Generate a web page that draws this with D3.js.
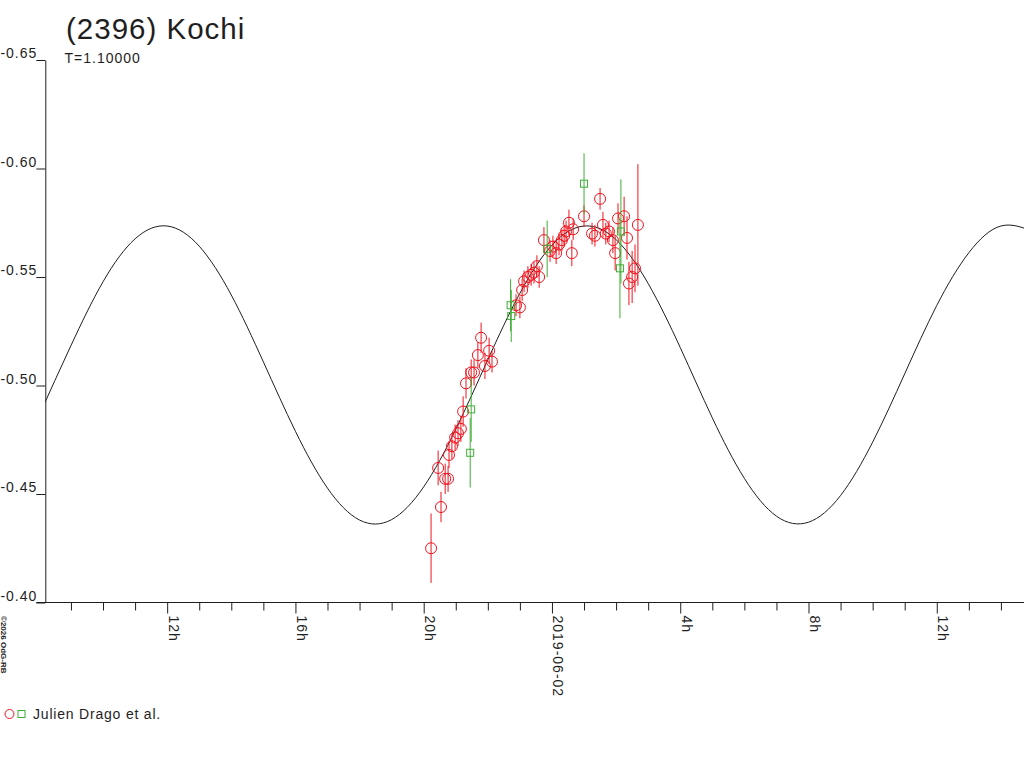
<!DOCTYPE html>
<html>
<head>
<meta charset="utf-8">
<script src="https://cdn.jsdelivr.net/npm/d3@7"></script>
<style>
  body { margin: 0; background: #fff; }
  svg { display: block; font-family: "Liberation Sans", Arial, sans-serif; }
</style>
</head>
<body>
<svg id="chart" width="1024" height="768"></svg>
<script>
// texts
const title = "(2396) Kochi";
const subtitle = "T=1.10000";
const legendLabel = "Julien Drago et al.";
const credit = "\u00a92026 OdG-RB";

// time is in hours since 2019-06-01 00:00 UT
const startDay = Date.UTC(2019, 5, 1);
const hoursShown = [8.2, 38.72];
const yTicks = [-0.65, -0.60, -0.55, -0.50, -0.45, -0.40];

// fitted light curve, every hour
const curveHours = [8, 9, 10, 11, 12, 13, 14, 15, 16, 17, 18, 19, 20, 21, 22, 23,
    24, 25, 26, 27, 28, 29, 30, 31, 32, 33, 34, 35, 36, 37, 38, 39];
const curveMag = [-0.4860, -0.5184, -0.5478, -0.5676, -0.5735, -0.5642, -0.5417, -0.5109,
    -0.4789, -0.4527, -0.4380, -0.4382, -0.4533, -0.4798, -0.5119, -0.5425,
    -0.5647, -0.5735, -0.5672, -0.5470, -0.5175, -0.4851, -0.4572, -0.4398,
    -0.4370, -0.4493, -0.4739, -0.5054, -0.5369, -0.5612, -0.5735, -0.5710];

// observations, circles (red)
const redHours = [20.23, 20.45, 20.54, 20.67, 20.76, 20.79, 20.88, 20.98, 21.07, 21.16,
    21.23, 21.32, 21.48, 21.57, 21.69, 21.79, 21.91, 22.04, 22.13, 22.88,
    23.00, 23.07, 23.13, 23.25, 23.35, 23.44, 23.53, 23.60, 23.75, 23.94,
    24.03, 24.13, 24.22, 24.31, 24.38, 24.44, 24.53, 24.62, 24.66, 25.00,
    25.25, 25.34, 25.50, 25.59, 25.68, 25.78, 25.90, 25.97, 26.06, 26.25,
    26.34, 26.40, 26.50, 26.59, 26.68];
const redMag = [-0.425, -0.462, -0.444, -0.457, -0.457, -0.468, -0.472, -0.476, -0.478, -0.480,
    -0.488, -0.501, -0.506, -0.506, -0.514, -0.522, -0.509, -0.516, -0.511, -0.537,
    -0.536, -0.544, -0.548, -0.550, -0.551, -0.552, -0.555, -0.550, -0.567, -0.562,
    -0.564, -0.561, -0.565, -0.567, -0.569, -0.571, -0.575, -0.561, -0.572, -0.578,
    -0.570, -0.569, -0.586, -0.574, -0.570, -0.571, -0.567, -0.561, -0.577, -0.578,
    -0.568, -0.547, -0.550, -0.554, -0.574];
const redErr = [0.016, 0.008, 0.007, 0.007, 0.006, 0.006, 0.006, 0.006, 0.006, 0.006,
    0.007, 0.007, 0.006, 0.006, 0.006, 0.007, 0.006, 0.006, 0.005, 0.005,
    0.005, 0.005, 0.005, 0.005, 0.005, 0.005, 0.005, 0.005, 0.006, 0.005,
    0.005, 0.005, 0.005, 0.005, 0.005, 0.005, 0.006, 0.006, 0.005, 0.005,
    0.005, 0.005, 0.005, 0.006, 0.005, 0.005, 0.006, 0.008, 0.007, 0.009,
    0.010, 0.010, 0.012, 0.011, 0.028];

// observations, squares (green)
const greenHours = [21.45, 21.48, 22.71, 22.73, 23.85, 25.00, 26.12, 26.15];
const greenMag = [-0.469, -0.489, -0.537, -0.532, -0.563, -0.593, -0.554, -0.571];
const greenErr = [0.016, 0.015, 0.012, 0.012, 0.013, 0.014, 0.023, 0.024];

const redColor = "#f0141e";
const greenColor = "#3fae35";
const ink = "#1e1e1e";

const toDate = h => new Date(startDay + h * 3600e3);
const zip = (hs, ms, es) => hs.map((h, i) => ({ t: toDate(h), m: ms[i], e: es ? es[i] : 0 }));

const svg = d3.select("#chart");
const W = +svg.attr("width");

const x = d3.scaleUtc().domain(hoursShown.map(toDate)).range([45.3, W]);
const y = d3.scaleLinear().domain([-0.65, -0.40]).range([60, 602.5]);
const [x0, x1] = x.range();
const yBottom = y(-0.40);

// axes
const hourTicks = x.ticks(d3.utcHour.every(1));
const isMajor = d => d.getUTCHours() % 4 === 0;
const fmtTick = d => d.getUTCHours() === 0 ? d3.utcFormat("%Y-%m-%d")(d) : d.getUTCHours() + "h";

const styleAxis = (g, spacing = "1px") => {
    g.attr("font-family", null).attr("font-size", 14).attr("color", ink);
    g.selectAll("text").style("letter-spacing", spacing);
};

svg.append("g")
    .attr("transform", `translate(0,${yBottom})`)
    .call(d3.axisBottom(x).tickValues(hourTicks.filter(d => !isMajor(d))).tickSize(8).tickFormat(""))
    .call(g => g.select(".domain").remove())
    .call(styleAxis);

svg.append("g")
    .attr("transform", `translate(0,${yBottom})`)
    .call(d3.axisBottom(x).tickValues(hourTicks.filter(isMajor)).tickSize(11).tickFormat(fmtTick))
    .call(g => g.select(".domain").remove())
    .call(styleAxis)
    .call(g => g.selectAll("text")
        .attr("text-anchor", "start")
        .attr("dy", null)
        .attr("x", 13)
        .attr("y", -1)
        .attr("transform", "rotate(90)"));

svg.append("line")
    .attr("x1", x0 - 9).attr("x2", x1)
    .attr("y1", yBottom).attr("y2", yBottom)
    .attr("stroke", ink);

svg.append("g")
    .attr("transform", `translate(${x0},0)`)
    .call(d3.axisLeft(y).tickValues(yTicks).tickSize(9).tickSizeOuter(0).tickFormat(d => d.toFixed(2)))
    .call(styleAxis)
    .call(g => g.selectAll("text").attr("dy", null).attr("x", -8).attr("y", -2.5));

// model curve
svg.append("clipPath").attr("id", "plot")
    .append("rect")
    .attr("x", x0).attr("y", 0)
    .attr("width", x1 - x0).attr("height", yBottom);

const line = d3.line()
    .x(d => x(d.t))
    .y(d => y(d.m))
    .curve(d3.curveNatural);

svg.append("path")
    .datum(zip(curveHours, curveMag))
    .attr("clip-path", "url(#plot)")
    .attr("fill", "none")
    .attr("stroke", ink)
    .attr("stroke-width", 1)
    .attr("d", line);

// observations
function drawSeries(data, color, shape) {
    const g = svg.append("g").attr("stroke", color).attr("fill", "none");
    g.selectAll("line")
        .data(data)
        .join("line")
        .attr("x1", d => x(d.t)).attr("x2", d => x(d.t))
        .attr("y1", d => y(d.m - d.e)).attr("y2", d => y(d.m + d.e));
    if (shape === "circle") {
        g.selectAll("circle")
            .data(data)
            .join("circle")
            .attr("cx", d => x(d.t))
            .attr("cy", d => y(d.m))
            .attr("r", 5.5);
    } else {
        g.selectAll("rect")
            .data(data)
            .join("rect")
            .attr("x", d => x(d.t) - 3.5)
            .attr("y", d => y(d.m) - 3.5)
            .attr("width", 7)
            .attr("height", 7);
    }
}

drawSeries(zip(redHours, redMag, redErr), redColor, "circle");
drawSeries(zip(greenHours, greenMag, greenErr), greenColor, "square");

// titles
svg.append("text")
    .attr("x", 66).attr("y", 39)
    .attr("font-size", 29.5)
    .attr("fill", ink)
    .style("letter-spacing", "1px")
    .text(title);

svg.append("text")
    .attr("x", 64.5).attr("y", 63)
    .attr("font-size", 14)
    .attr("fill", ink)
    .style("letter-spacing", "1px")
    .text(subtitle);

// credit
svg.append("text")
    .attr("transform", "translate(0.5,616) rotate(90)")
    .attr("font-size", 8)
    .attr("font-weight", "bold")
    .attr("fill", ink)
    .text(credit);

// legend
const legend = svg.append("g").attr("transform", "translate(0,714)");
legend.append("circle")
    .attr("cx", 9.5).attr("cy", 0).attr("r", 4.5)
    .attr("fill", "none").attr("stroke", redColor);
legend.append("rect")
    .attr("x", 18).attr("y", -3.5).attr("width", 7).attr("height", 7)
    .attr("fill", "none").attr("stroke", greenColor);
legend.append("text")
    .attr("x", 33).attr("y", 4.5)
    .attr("font-size", 14)
    .attr("fill", ink)
    .style("letter-spacing", "0.8px")
    .text(legendLabel);
</script>
</body>
</html>
